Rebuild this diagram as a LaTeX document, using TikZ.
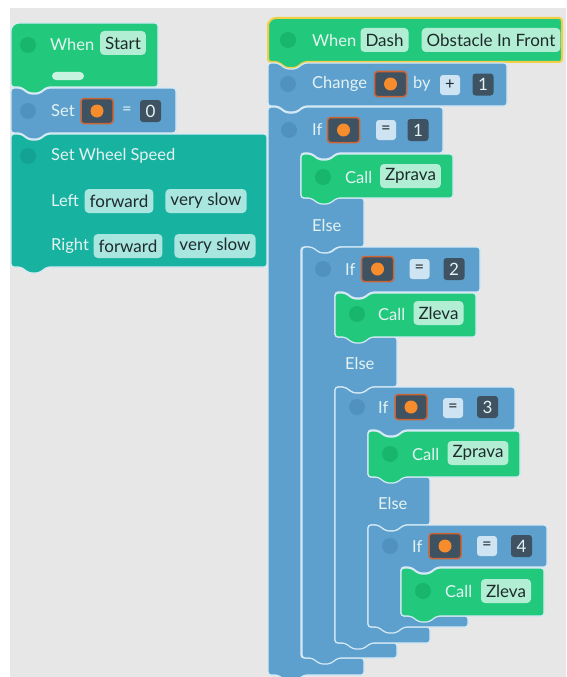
\documentclass[tikz,border=0pt]{standalone}
\usepackage{fontspec}
\setmainfont{Lato}
\usetikzlibrary{positioning}
\definecolor{grn}{RGB}{34,201,124}
\definecolor{grndot}{RGB}{24,182,108}
\definecolor{blu}{RGB}{94,160,205}
\definecolor{bludot}{RGB}{80,145,192}
\definecolor{teal}{RGB}{24,178,160}
\definecolor{tealdot}{RGB}{20,162,146}
\definecolor{edge}{RGB}{214,234,246}
\definecolor{ylw}{RGB}{240,206,70}
\definecolor{bggray}{RGB}{231,231,231}
\definecolor{lbltext}{RGB}{228,243,242}
\definecolor{chiptext}{RGB}{30,42,44}
\definecolor{mint}{RGB}{178,238,212}
\definecolor{aqua}{RGB}{170,230,224}
\definecolor{opbg}{RGB}{206,228,242}
\definecolor{numbg}{RGB}{62,82,98}
\definecolor{varedge}{RGB}{205,100,52}
\definecolor{orng}{RGB}{246,140,44}

\begin{document}
\begin{tikzpicture}[x=1pt,y=-1pt,font=\fontsize{16.5}{18}\selectfont,
  blk/.style={draw=edge,line width=1.2pt,rounded corners=3pt},
  notchin/.style={insert path={-- ++(8,6) -- ++(10,0) -- ++(8,-6)}},
  tabout/.style={insert path={-- ++(-8,6) -- ++(-10,0) -- ++(-8,-6)}},
  dot/.style={circle,fill=#1,minimum size=16pt,inner sep=0pt},
  lbl/.style={anchor=west,text=lbltext,inner sep=0pt},
  chip/.style={fill=#1,text=chiptext,rounded corners=4pt,inner xsep=5pt,inner ysep=0pt,
    minimum height=24pt,font=\fontsize{17}{19}\selectfont},
  varchip/.style={fill=numbg,draw=varedge,line width=1.5pt,rounded corners=3pt,
    minimum width=32pt,minimum height=25pt,inner sep=0pt,
    path picture={\fill[orng] (path picture bounding box.center) circle (6.5pt);}},
  numchip/.style={fill=numbg,text=lbltext,rounded corners=3pt,minimum width=21pt,
    minimum height=22pt,inner sep=0pt,font=\fontsize{17}{19}\selectfont},
  opchip/.style={fill=opbg,text=chiptext,rounded corners=3pt,minimum size=20pt,inner sep=0pt}]
\useasboundingbox (0,0) rectangle (566,677);
\fill[white] (0,0) rectangle (566,677);
\fill[bggray] (10,8) rectangle (566,677);

% start script
\filldraw[blk,fill=grn] (11,30) [rounded corners=8pt] -- (11,23) -- (30,23) [rounded corners=3pt]
  -- (158,23) -- (158,87) -- (47,87) [tabout] -- (11,87) -- cycle;
\filldraw[blk,fill=blu] (11,88) -- (21,88) [notchin] -- (176,88) -- (176,133) -- (47,133) [tabout] -- (11,133) -- cycle;
\filldraw[blk,fill=teal] (11,134) -- (21,134) [notchin] -- (267,134) -- (267,267) -- (47,267) [tabout] -- (11,267) -- cycle;

\node[dot=grndot] (sd1) at (28,45) {};
\node[lbl] (when1) at (50,44) {When};
\node[chip=mint] (start) at (123,43) {Start};
\node[fill=mint!70!white,rounded corners=4pt,minimum width=32pt,minimum height=8pt,inner sep=0pt] (pill) at (68,76) {};
\node[dot=bludot] (sd2) at (28,111) {};
\node[lbl] (set) at (51,111) {Set};
\node[varchip] (var0) at (97,111) {};
\node[text=lbltext] (eq0) at (127,111) {=};
\node[numchip] (zero) at (150.5,111) {0};
\node[dot=tealdot] (sd3) at (28,156) {};
\node[lbl] (wheel) at (51,156) {Set Wheel Speed};
\node[lbl] (left) at (51,201) {Left};
\node[chip=aqua] (lfwd) at (119,201) {forward};
\node[chip=aqua] (lslow) at (206,201) {very slow};
\node[lbl] (right) at (51,246) {Right};
\node[chip=aqua] (rfwd) at (128,246) {forward};
\node[chip=aqua] (rslow) at (215,246) {very slow};

% obstacle script
\filldraw[blk,draw=ylw,line width=2pt,fill=grn] (268,26) [rounded corners=8pt] -- (268,18) -- (290,18)
  [rounded corners=3pt] -- (562,18) -- (562,62) -- (304,62) [tabout] -- (268,62) -- cycle;
\filldraw[blk,fill=blu] (268,63) -- (278,63) [notchin] -- (507,63) -- (507,106) -- (304,106) [tabout] -- (268,106) -- cycle;

% nested if / else blocks
\foreach \l/\t/\hr/\hb/\cb/\er/\ne/\nb/\yb in {268/107/443/153/198/364/247/658/675,
    302/247/480/292/337/397/387/643/658, 335/387/515/430/477/430/525/627/643}
  \filldraw[blk,fill=blu] (\l,\t) -- ({\l+10},\t) [notchin] -- (\hr,\t) -- (\hr,\hb)
    -- ({\l+69},\hb) [tabout] -- ({\l+33},\hb) -- ({\l+33},\cb) -- (\er,\cb) -- (\er,\ne)
    -- ({\l+69},\ne) [tabout] -- ({\l+33},\ne) -- ({\l+33},\nb) -- (\er,\nb) -- (\er,\yb)
    -- ({\l+36},\yb) [tabout] -- (\l,\yb) -- cycle;
\filldraw[blk,fill=blu] (368,525) -- (378,525) [notchin] -- (547,525) -- (547,567)
  -- (437,567) [tabout] -- (401,567) -- (401,616) -- (468,616) -- (468,627)
  -- (404,627) [tabout] -- (368,627) -- cycle;

% call blocks
\foreach \l/\t/\b/\r in {301/154/198/453, 335/293/337/476, 368/431/477/520, 401/568/616/544}
  \filldraw[blk,fill=grn] (\l,\t) -- ({\l+10},\t) [notchin] -- (\r,\t) -- (\r,\b)
    -- ({\l+36},\b) [tabout] -- (\l,\b) -- cycle;

\node[dot=grndot] (od1) at (288,40) {};
\node[lbl] (when2) at (312,40) {When};
\node[chip=mint] (dash) at (384.5,40) {Dash};
\node[chip=mint] (front) at (491,40) {Obstacle In Front};
\node[dot=bludot] (od2) at (288,84) {};
\node[lbl] (change) at (312,84) {Change};
\node[varchip] (var1) at (390.5,84) {};
\node[lbl] (by) at (413,84) {by};
\node[opchip] (plus) at (450,85) {+};
\node[numchip] (one) at (483,84.5) {1};

\node[dot=bludot] (if1d) at (289,130) {};
\node[lbl] (if1) at (312,130) {If};
\node[varchip] (var2) at (343.5,130) {};
\node[opchip] (eq1) at (386,130) {=};
\node[numchip] (n1) at (418,130) {1};
\node[dot=grndot] (c1d) at (323,177) {};
\node[lbl] (call1) at (345,177) {Call};
\node[chip=mint] (zp1) at (410.5,176) {Zprava};
\node[lbl] (else1) at (312,225) {Else};

\node[dot=bludot] (if2d) at (323,269) {};
\node[lbl] (if2) at (345,269) {If};
\node[varchip] (var3) at (377.5,269) {};
\node[opchip] (eq2) at (419.5,269) {=};
\node[numchip] (n2) at (454,269) {2};
\node[dot=grndot] (c2d) at (357,314) {};
\node[lbl] (call2) at (378,314) {Call};
\node[chip=mint] (zl1) at (438.5,313) {Zleva};
\node[lbl] (else2) at (345,363) {Else};

\node[dot=bludot] (if3d) at (357,407) {};
\node[lbl] (if3) at (378,407) {If};
\node[varchip] (var4) at (411,407) {};
\node[opchip] (eq3) at (453,408) {=};
\node[numchip] (n3) at (487.5,407) {3};
\node[dot=grndot] (c3d) at (390,454) {};
\node[lbl] (call3) at (412,454) {Call};
\node[chip=mint] (zp2) at (478,453) {Zprava};
\node[lbl] (else3) at (378,503) {Else};

\node[dot=bludot] (if4d) at (390,546) {};
\node[lbl] (if4) at (412,546) {If};
\node[varchip] (var5) at (445,546) {};
\node[opchip] (eq4) at (487,546) {=};
\node[numchip] (n4) at (521.5,546) {4};
\node[dot=grndot] (c4d) at (423,591) {};
\node[lbl] (call4) at (445,591) {Call};
\node[chip=mint] (zl2) at (506,591) {Zleva};
\end{tikzpicture}
\end{document}
